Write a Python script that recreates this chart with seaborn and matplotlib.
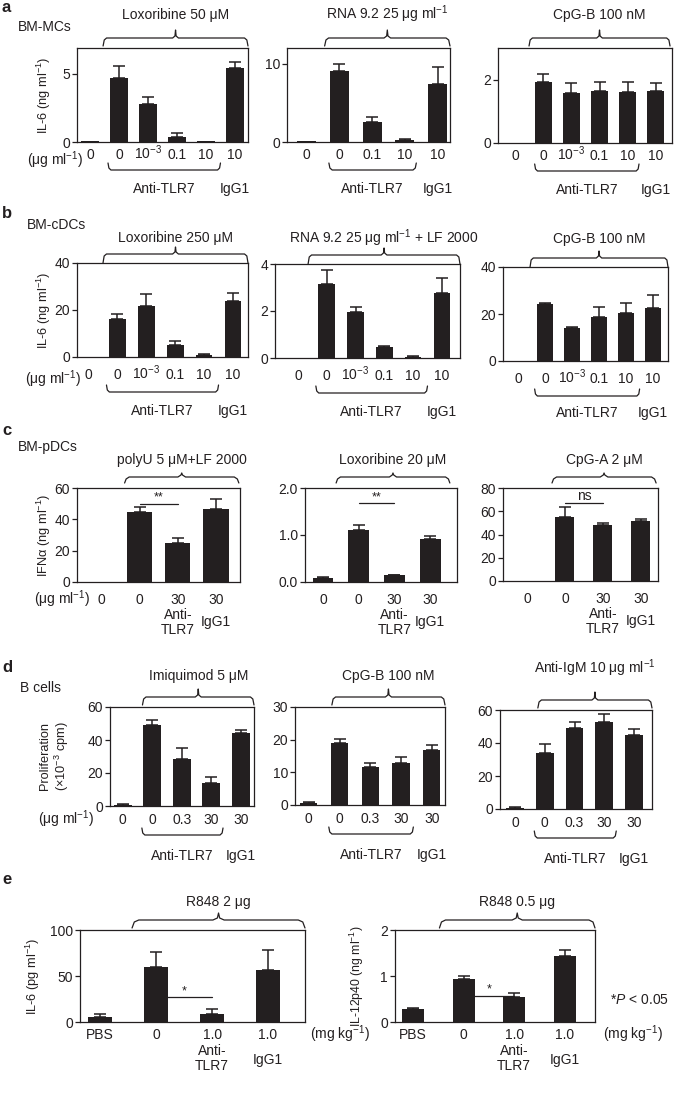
import numpy as np
import matplotlib.pyplot as plt
import seaborn as sns
import pandas as pd

sns.set_style("white")
plt.rcParams['font.family'] = ['Liberation Sans', 'DejaVu Sans']
plt.rcParams['mathtext.fontset'] = 'custom'
plt.rcParams['mathtext.rm'] = 'Liberation Sans'
plt.rcParams['mathtext.it'] = 'Liberation Sans:italic'
plt.rcParams['font.size'] = 10

INK = '#231f20'
W, H = 685, 1099

# ---- data (mean and upper error) ----
ticks6 = ['0', '0', '10$^{-3}$', '0.1', '10', '10']
ticks5 = ['0', '0', '0.1', '10', '10']
c_ticks = ['0', '0', '30', '30']
d_ticks = ['0', '0', '0.3', '30', '30']
e_ticks = ['PBS', '0', '1.0', '1.0']

a1_mean = [0.05, 4.7, 2.8, 0.4, 0.05, 5.45]
a1_err = [0, 0.85, 0.5, 0.25, 0, 0.45]
a2_mean = [0.1, 9.1, 2.6, 0.3, 7.4]
a2_err = [0, 0.9, 0.6, 0.1, 2.2]
a3_mean = [0, 1.94, 1.59, 1.65, 1.62, 1.65]
a3_err = [0, 0.25, 0.31, 0.29, 0.32, 0.25]

b1_mean = [0, 16.2, 21.7, 5.1, 1.0, 23.8]
b1_err = [0, 2.0, 5.0, 1.6, 0.3, 3.4]
b2_mean = [0, 3.15, 1.95, 0.45, 0.05, 2.75]
b2_err = [0, 0.6, 0.2, 0.06, 0.02, 0.65]
b3_mean = [0, 24.2, 14.0, 18.8, 20.3, 22.7]
b3_err = [0, 0.3, 0.4, 4.3, 4.4, 5.4]

c1_mean = [0, 44.7, 24.9, 46.5]
c1_err = [0, 3.2, 3.1, 6.4]
c2_mean = [0.09, 1.11, 0.14, 0.91]
c2_err = [0.01, 0.11, 0.01, 0.07]
c3_mean = [0, 55.0, 48.3, 51.6]
c3_err = [0, 8.7, 1.5, 1.5]

d1_mean = [0.8, 49.0, 28.5, 14.0, 44.5]
d1_err = [0.2, 3.0, 6.5, 3.6, 1.5]
d2_mean = [0.7, 18.9, 11.5, 13.0, 16.8]
d2_err = [0.3, 1.2, 1.5, 1.6, 1.5]
d3_mean = [0.8, 34.0, 49.0, 52.7, 44.8]
d3_err = [0.3, 5.4, 4.0, 4.8, 3.7]

e1_mean = [5, 60, 9, 57]
e1_err = [4, 16, 5, 21]
e2_mean = [0.28, 0.93, 0.54, 1.43]
e2_err = [0.03, 0.06, 0.08, 0.13]

fig = plt.figure(figsize=(W / 100, H / 100), dpi=100)


def make_ax(left, top, right, bottom):
    return fig.add_axes([left / W, 1 - bottom / H, (right - left) / W, (bottom - top) / H])


def fpx(ax):
    # axes fraction for one pixel (vertical)
    return 1 / (ax.get_position().height * H)


def bars(ax, vals, errs, ticks, ylim, yticks, pad, width=0.6, ytl=None, base=17):
    n = len(vals)
    df = pd.DataFrame({'pos': range(n), 'val': vals})
    sns.barplot(data=df, x='pos', y='val', color=INK, saturation=1, width=width,
                errorbar=None, linewidth=0, ax=ax)
    e = np.array(errs, dtype=float)
    m = e > 0
    pos = np.arange(n)
    ax.errorbar(pos[m], np.array(vals)[m], yerr=[np.zeros(m.sum()), e[m]], fmt='none',
                ecolor=INK, elinewidth=1.1, capsize=4.2, capthick=1.1)
    ax.set_xlim(-pad[0], n - 1 + pad[1])
    ax.set_ylim(*ylim)
    ax.set_yticks(yticks)
    if ytl is not None:
        ax.set_yticklabels(ytl)
    ax.set_xticks([])
    ax.set_xlabel('')
    ax.set_ylabel('')
    for s in ax.spines.values():
        s.set_visible(True)
        s.set_color(INK)
        s.set_linewidth(0.9)
    ax.tick_params(axis='y', left=True, direction='out', length=3.5, width=0.9,
                   color=INK, labelsize=10, pad=1.5, labelcolor=INK)
    tr = ax.get_xaxis_transform()
    for i, t in enumerate(ticks):
        ax.text(i, -base * fpx(ax), t, ha='center', va='baseline', transform=tr, color=INK)


def top_brace(ax, x0, x1, title, line=10, drop=8, peak=18, ttl=27):
    tr = ax.get_xaxis_transform()
    f = fpx(ax)
    y = 1 + line * f
    ye = 1 + (line - drop) * f
    yp = 1 + peak * f
    xm = (x0 + x1) / 2
    ax.plot([x0, x0 + 0.04, x0 + 0.12, xm - 0.1, xm - 0.02, xm, xm + 0.02, xm + 0.1,
             x1 - 0.12, x1 - 0.04, x1],
            [ye, y - 2 * f, y, y, y + 2 * f, yp, y + 2 * f, y, y, y - 2 * f, ye],
            color=INK, lw=0.9, transform=tr, clip_on=False)
    ax.text(xm, 1 + ttl * f, title, ha='center', va='baseline', transform=tr, color=INK)


def low_brace(ax, x0, x1, text, below=28, rise=7, tbase=50):
    tr = ax.get_xaxis_transform()
    f = fpx(ax)
    y = -below * f
    ye = -(below - rise) * f
    ax.plot([x0, x0 + 0.03, x0 + 0.1, x1 - 0.1, x1 - 0.03, x1],
            [ye, y + 2 * f, y, y, y + 2 * f, ye],
            color=INK, lw=0.9, transform=tr, clip_on=False)
    ax.text((x0 + x1) / 2, -tbase * f, text, ha='center', va='baseline', transform=tr, color=INK)


def under(ax, x, text, base):
    ax.text(x, -base * fpx(ax), text, ha='center', va='baseline',
            transform=ax.get_xaxis_transform(), color=INK, linespacing=1.05)


def ylab(ax, xpx, text, size=9.2):
    p = ax.get_position()
    xa = (xpx / W - p.x0) / p.width
    ax.text(xa, 0.5, text, rotation=90, ha='center', va='center', transform=ax.transAxes,
            color=INK, linespacing=1.1, fontsize=size)


def unit(ax, x, text, base=17, ha='right'):
    ax.text(x, -base * fpx(ax), text, ha=ha, va='baseline',
            transform=ax.get_xaxis_transform(), color=INK)


def sig(ax, x0, x1, yv, mark, size=9):
    ax.plot([x0, x1], [yv, yv], color=INK, lw=0.9)
    ax.text((x0 + x1) / 2, yv, mark, ha='center', va='bottom', fontsize=size, color=INK)


def ftext(x, y, s, **kw):
    fig.text(x / W, 1 - y / H, s, color=INK, **kw)


ML = 'ml$^{-1}$'
UG = '(μg ml$^{-1}$)'

# ---- a ----
ax = make_ax(77, 48, 248, 142)
bars(ax, a1_mean, a1_err, ticks6, (0, 6.9), [0, 5], (0.45, 0.45), width=0.6, base=17)
top_brace(ax, 0.45, 5.45, 'Loxoribine 50 μM', ttl=29)
low_brace(ax, 0.62, 4.5, 'Anti-TLR7', below=28, tbase=51)
under(ax, 5, 'IgG1', 51)
unit(ax, -0.25, UG, base=23)
ylab(ax, 44, 'IL-6 (ng ' + ML + ')')

ax = make_ax(287, 48, 450, 142)
bars(ax, a2_mean, a2_err, ticks5, (0, 12), [0, 10], (0.6, 0.38), width=0.58, base=17)
top_brace(ax, 0.55, 4.38, 'RNA 9.2 25 μg ' + ML, ttl=29)
low_brace(ax, 0.68, 3.35, 'Anti-TLR7', below=28, tbase=51)
under(ax, 4, 'IgG1', 51)

ax = make_ax(498, 48, 672, 143)
bars(ax, a3_mean, a3_err, ticks6, (0, 3.0), [0, 2], (0.6, 0.57), width=0.6, base=17)
top_brace(ax, 0.5, 5.5, 'CpG-B 100 nM', ttl=29)
low_brace(ax, 0.7, 4.4, 'Anti-TLR7', below=28, tbase=51)
under(ax, 5, 'IgG1', 51)

# ---- b ----
ax = make_ax(77, 263, 248, 357)
bars(ax, b1_mean, b1_err, ticks6, (0, 40), [0, 20, 40], (0.4, 0.52), width=0.58, base=22)
top_brace(ax, 0.5, 5.52, 'Loxoribine 250 μM', line=9, drop=9, peak=16, ttl=21)
low_brace(ax, 0.62, 4.5, 'Anti-TLR7', below=35, tbase=58)
under(ax, 5, 'IgG1', 58)
unit(ax, -0.25, UG, base=27)
ylab(ax, 44, 'IL-6 (ng ' + ML + ')')

ax = make_ax(275, 264, 460, 358)
bars(ax, b2_mean, b2_err, ticks6, (0, 4), [0, 2, 4], (0.8, 0.63), width=0.58, base=22)
top_brace(ax, 0.35, 5.63, 'RNA 9.2 25 μg ' + ML + ' + LF 2000', line=9, drop=9, peak=16, ttl=21)
low_brace(ax, 0.62, 4.5, 'Anti-TLR7', below=35, tbase=58)
under(ax, 5, 'IgG1', 58)

ax = make_ax(503, 267, 668, 361)
bars(ax, b3_mean, b3_err, ticks6, (0, 40), [0, 20, 40], (0.55, 0.55), width=0.58, base=22)
top_brace(ax, 0.45, 5.55, 'CpG-B 100 nM', line=9, drop=9, peak=16, ttl=24)
low_brace(ax, 0.62, 4.5, 'Anti-TLR7', below=35, tbase=56)
under(ax, 5, 'IgG1', 56)

# ---- c ----
ax = make_ax(77, 488, 240, 582)
bars(ax, c1_mean, c1_err, c_ticks, (0, 60), [0, 20, 40, 60], (0.65, 0.63), width=0.66, base=22)
top_brace(ax, 0.6, 3.6, 'polyU 5 μM+LF 2000', line=11, drop=6, peak=15, ttl=24)
under(ax, 2, 'Anti-\nTLR7', 52)
under(ax, 3, 'IgG1', 44)
unit(ax, -0.3, UG, base=22)
sig(ax, 1, 2, 50, '**')
ylab(ax, 44, 'IFNα (ng ' + ML + ')')

ax = make_ax(305, 488, 457, 582)
bars(ax, c2_mean, c2_err, c_ticks, (0, 2), [0, 1, 2], (0.5, 0.75), width=0.58, base=22,
     ytl=['0.0', '1.0', '2.0'])
top_brace(ax, 0.37, 3.55, 'Loxoribine 20 μM', line=11, drop=6, peak=15, ttl=24)
under(ax, 2, 'Anti-\nTLR7', 52)
under(ax, 3, 'IgG1', 44)
sig(ax, 1, 2, 1.68, '**')

ax = make_ax(503, 488, 658, 581)
bars(ax, c3_mean, c3_err, c_ticks, (0, 80), [0, 20, 40, 60, 80], (0.63, 0.45), width=0.5, base=22)
top_brace(ax, 0.66, 3.4, 'CpG-A 2 μM', line=11, drop=6, peak=15, ttl=24)
under(ax, 2, 'Anti-\nTLR7', 52)
under(ax, 3, 'IgG1', 44)
sig(ax, 1, 2, 67, 'ns', size=10)

# ---- d ----
ax = make_ax(110, 707, 254, 806)
bars(ax, d1_mean, d1_err, d_ticks, (0, 60), [0, 20, 40, 60], (0.43, 0.45), width=0.6, base=18)
top_brace(ax, 0.67, 4.45, 'Imiquimod 5 μM', ttl=27)
low_brace(ax, 0.65, 3.4, 'Anti-TLR7', below=29, tbase=54)
under(ax, 4, 'IgG1', 54)
unit(ax, -0.95, UG, base=18)
ylab(ax, 55, 'Proliferation\n(×10$^{-3}$ cpm)')

ax = make_ax(295, 707, 445, 805)
bars(ax, d2_mean, d2_err, d_ticks, (0, 30), [0, 10, 20, 30], (0.45, 0.43), width=0.56, base=18)
top_brace(ax, 0.75, 4.43, 'CpG-B 100 nM', ttl=27)
low_brace(ax, 0.65, 3.4, 'Anti-TLR7', below=29, tbase=54)
under(ax, 4, 'IgG1', 54)

ax = make_ax(500, 710, 652, 809)
bars(ax, d3_mean, d3_err, d_ticks, (0, 60), [0, 20, 40, 60], (0.5, 0.6), width=0.6, base=18)
top_brace(ax, 0.77, 4.6, 'Anti-IgM 10 μg ' + ML, ttl=37)
low_brace(ax, 0.65, 3.4, 'Anti-TLR7', below=29, tbase=54)
under(ax, 4, 'IgG1', 54)

# ---- e ----
ax = make_ax(80, 930, 305, 1022)
bars(ax, e1_mean, e1_err, e_ticks, (0, 100), [0, 50, 100], (0.36, 0.66), width=0.42, base=17)
top_brace(ax, 0.57, 3.66, 'R848 2 μg', line=10, drop=8, peak=17, ttl=24)
under(ax, 2, 'Anti-\nTLR7', 48)
under(ax, 3, 'IgG1', 42)
unit(ax, 3.75, '(mg kg$^{-1}$)', base=17, ha='left')
sig(ax, 1, 2, 27, '*')
ylab(ax, 33, 'IL-6 (pg ' + ML + ')')

ax = make_ax(395, 930, 595, 1022)
bars(ax, e2_mean, e2_err, e_ticks, (0, 2), [0, 1, 2], (0.36, 0.6), width=0.44, base=17)
top_brace(ax, 0.52, 3.6, 'R848 0.5 μg', line=10, drop=8, peak=17, ttl=24)
under(ax, 2, 'Anti-\nTLR7', 48)
under(ax, 3, 'IgG1', 42)
unit(ax, 3.75, '(mg kg$^{-1}$)', base=17, ha='left')
sig(ax, 1, 2, 0.57, '*')
ylab(ax, 357, 'IL-12p40 (ng ' + ML + ')', size=8.8)

# ---- panel letters and cell labels ----
for letter, y in [('a', 8), ('b', 213), ('c', 431), ('d', 667), ('e', 880)]:
    ftext(2, y, letter, fontsize=12, fontweight='bold', ha='left', va='center')
ftext(18, 27, 'BM-MCs', ha='left', va='center')
ftext(27, 225, 'BM-cDCs', ha='left', va='center')
ftext(18, 447, 'BM-pDCs', ha='left', va='center')
ftext(20, 688, 'B cells', ha='left', va='center')
ftext(610, 1000, '*$P$ < 0.05', ha='left', va='center')

fig.savefig('out.png', dpi=100)
